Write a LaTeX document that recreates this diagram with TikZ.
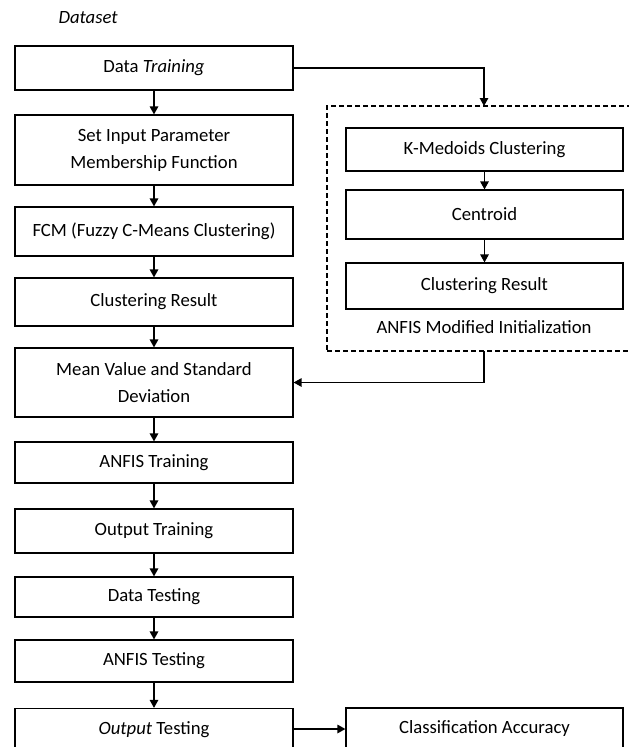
\documentclass[tikz,border=0pt]{standalone}
\usepackage{fontspec}
\setmainfont{Carlito}
\usetikzlibrary{arrows.meta}
\begin{document}
\begin{tikzpicture}[x=1pt,y=-1pt,
  font=\fontsize{18.7}{27}\selectfont,
  box/.style={draw, line width=1.2pt, minimum width=278pt, align=center, inner sep=0pt},
  lbox/.style={box, minimum width=278pt},
  rbox/.style={box, minimum width=277pt},
  conn/.style={line width=1.4pt, -{Triangle[width=8.5pt,length=8pt]}},
  grpbox/.style={draw, line width=1.1pt, dash pattern=on 5pt off 3pt, inner sep=0pt}]
\path[use as bounding box, clip] (0,0) rectangle (629,747);

\node[anchor=base west, font=\fontsize{18.7}{27}\selectfont\itshape] (ds) at (55,23) {Dataset};

\node[lbox, minimum height=44pt] (dt) at (154,68) {Data \textit{Training}};
\node[lbox, minimum height=70pt] (sip) at (154,150) {Set Input Parameter\\Membership Function};
\node[lbox, minimum height=49pt] (fcm) at (154,231.5) {FCM (Fuzzy C-Means Clustering)};
\node[lbox, minimum height=48pt] (cr) at (154,302) {Clustering Result};
\node[lbox, minimum height=69pt] (mv) at (154,382.5) {Mean Value and Standard\\Deviation};
\node[lbox, minimum height=41pt] (at) at (154,462.5) {ANFIS Training};
\node[lbox, minimum height=44pt] (ot) at (154,531) {Output Training};
\node[lbox, minimum height=40pt] (dte) at (154,597) {Data Testing};
\node[lbox, minimum height=42pt] (ate) at (154,661) {ANFIS Testing};
\node[lbox, minimum height=42pt] (ote) at (154,729.5) {\textit{Output} Testing};

\node[grpbox, minimum width=330pt, minimum height=245pt] (grp) at (492,228.5) {};
\node[rbox, minimum height=43pt] (km) at (484.5,149.5) {K-Medoids Clustering};
\node[rbox, minimum height=49pt] (cen) at (484.5,214.5) {Centroid};
\node[rbox, minimum height=46pt] (rcr) at (484.5,286) {Clustering Result};
\node (lab) at (484,327) {ANFIS Modified Initialization};
\coordinate (gin) at (484,106);
\coordinate (gout) at (484,351);

\node[rbox, minimum height=42pt] (ca) at (484.5,729) {Classification Accuracy};

\draw[conn] (dt) -- (sip);
\draw[conn] (sip) -- (fcm);
\draw[conn] (fcm) -- (cr);
\draw[conn] (cr) -- (mv);
\draw[conn] (mv) -- (at);
\draw[conn] (at) -- (ot);
\draw[conn] (ot) -- (dte);
\draw[conn] (dte) -- (ate);
\draw[conn] (ate) -- (ote);
\draw[conn] (km) -- (cen);
\draw[conn] (cen) -- (rcr);
\draw[conn] (dt.east) -| (gin);
\draw[conn] (gout) |- (mv.east);
\draw[conn] (ote.east |- ca) -- (ca.west);
\end{tikzpicture}
\end{document}
